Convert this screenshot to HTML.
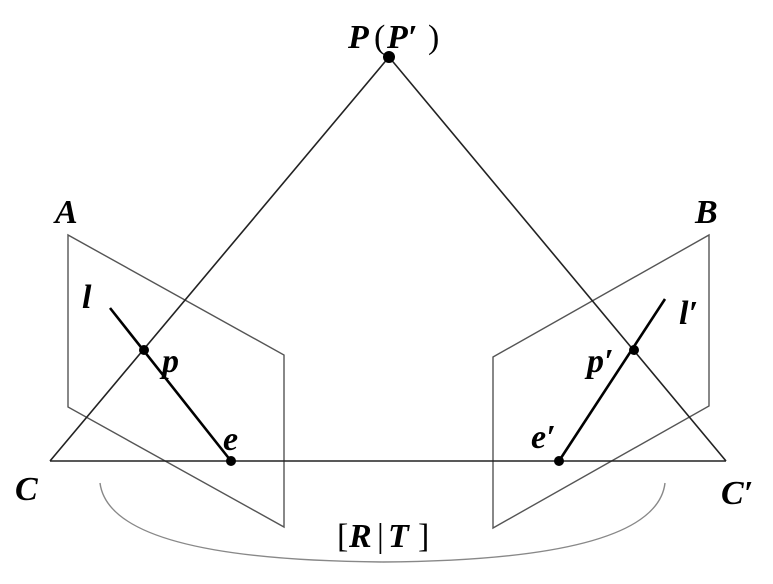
<!DOCTYPE html>
<html><head><style>html,body{margin:0;padding:0;background:#fff}</style></head>
<body>
<svg width="773" height="579" viewBox="0 0 773 579" xmlns="http://www.w3.org/2000/svg">
<g fill="none" stroke="#555" stroke-width="1.4">
<polygon points="68,235 68,407 284,527 284,355"/>
<polygon points="493,357 709,235 709,406 493,528"/>
</g>
<path d="M100,483 Q110,560 383,562 Q656,560 665,483" fill="none" stroke="#888" stroke-width="1.4"/>
<g stroke="#222" stroke-width="1.6" fill="none">
<line x1="389" y1="57" x2="50" y2="461"/>
<line x1="389" y1="57" x2="726" y2="461"/>
<line x1="50" y1="461" x2="726" y2="461"/>
</g>
<g stroke="#000" stroke-width="2.6">
<line x1="110" y1="308" x2="231" y2="461"/>
<line x1="665" y1="299" x2="559" y2="461"/>
</g>
<g fill="#000">
<circle cx="389" cy="57" r="6"/>
<circle cx="144" cy="350" r="5"/>
<circle cx="231" cy="461" r="5"/>
<circle cx="634" cy="350" r="5"/>
<circle cx="559" cy="461" r="5"/>
</g>
<g font-family="'Liberation Serif',serif" font-weight="bold" font-style="italic" font-size="34" fill="#000">
<text x="348" y="48">P</text><text x="374" y="48" font-style="normal" font-weight="normal">(</text><text x="387" y="48">P′</text><text x="428" y="48" font-style="normal" font-weight="normal">)</text>
<text x="55" y="223">A</text>
<text x="695" y="223">B</text>
<text x="82" y="308">l</text>
<text x="162" y="372">p</text>
<text x="223" y="450">e</text>
<text x="15" y="500">C</text>
<text x="531" y="448">e′</text>
<text x="587" y="372">p′</text>
<text x="679" y="324">l′</text>
<text x="721" y="504">C′</text>
<text x="337" y="547" font-style="normal" font-weight="normal">[</text><text x="349" y="547">R</text><text x="377" y="547" font-style="normal" font-weight="normal">|</text><text x="388" y="547">T</text><text x="418" y="547" font-style="normal" font-weight="normal">]</text>
</g>
</svg>
</body></html>
